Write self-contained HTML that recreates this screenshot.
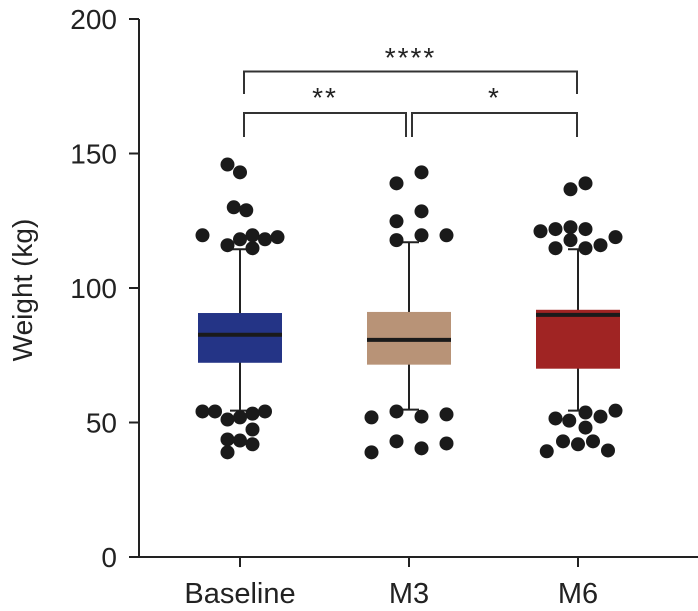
<!DOCTYPE html>
<html><head><meta charset="utf-8"><style>
body{margin:0;background:#fff;}
svg{display:block;font-family:"Liberation Sans",Arial,sans-serif;}
</style></head><body>
<svg id="chart" width="698" height="611" viewBox="0 0 698 611"></svg>
<script>
const categories=["Baseline","M3","M6"];
const boxColors=["#243486","#b89377","#a02423"];
const q1=[72.2,71.5,70];
const medians=[82.6,80.7,90];
const q3=[90.7,91.1,91.9];
const whiskerLow=[54.4,54.8,54.4];
const whiskerHigh=[114.4,117,114.4];
const outlierValues=[
 [145.9,143,130,128.9,119.6,115.9,118.1,119.6,118.1,118.9,114.8,54.1,54.1,51.1,51.9,53.3,54.1,47.4,43.7,43.3,41.9,38.9],
 [138.9,143,128.5,124.8,117.8,119.6,119.6,51.9,54.1,52.2,53,38.9,43,40.4,42.2],
 [136.7,138.9,121.1,121.9,122.6,121.9,117.8,114.8,114.8,115.9,118.9,51.5,50.7,53.7,52.2,54.4,48.1,39.3,43,41.9,43,39.6]
];
const outlierSlots=[
 [-1,0,-0.5,0.5,-3,-1,0,1,2,3,1,-3,-2,-1,0,1,2,1,-1,0,1,-1],
 [-1,1,1,-1,-1,1,3,-3,-1,1,3,-3,-1,1,3],
 [-0.6,0.6,-3,-1.8,-0.6,0.6,-0.6,-1.8,0.6,1.8,3,-1.8,-0.7,0.6,1.8,3,0.6,-2.5,-1.2,0,1.2,2.4]
];
const yTicks=[0,50,100,150,200];
const comparisons=[[0,2,"****"],[0,1,"**"],[1,2,"*"]];

const NS="http://www.w3.org/2000/svg";
const svg=document.getElementById("chart");
const Y0=557,Y1=19,X0=139,XEND=698;
function y(v){return Y0-(v/200)*(Y0-Y1);}
function x(i){return 240+i*169;}
function el(tag,attrs,parent){const e=document.createElementNS(NS,tag);for(const k in attrs)e.setAttribute(k,attrs[k]);(parent||svg).appendChild(e);return e;}

const ya=el("line",{x1:X0,y1:Y1,x2:X0,y2:Y0,stroke:"#222","stroke-width":2});


const xa=el("line",{x1:X0-1,y1:Y0,x2:XEND,y2:Y0,stroke:"#222","stroke-width":2});


yTicks.forEach(t=>{
 const tk=el("line",{x1:X0-10,y1:y(t),x2:X0,y2:y(t),stroke:"#222","stroke-width":2});
 
 
 const tl=el("text",{x:X0-22,y:y(t)+10,"text-anchor":"end","font-size":28,fill:"#222"});
 tl.textContent=t;
 
 
});
const yt=el("text",{x:0,y:0,transform:"translate(32,290) rotate(-90)","text-anchor":"middle","font-size":28,fill:"#222"});
yt.textContent="Weight (kg)";



categories.forEach((c,i)=>{
 const cx=x(i);
 const tk=el("line",{x1:cx,y1:Y0,x2:cx,y2:Y0+10,stroke:"#222","stroke-width":2});
 
 
 const tl=el("text",{x:cx,y:Y0+46,"text-anchor":"middle","font-size":29,fill:"#222"});
 tl.textContent=c;
 
 
 const w=el("line",{x1:cx,y1:y(whiskerHigh[i]),x2:cx,y2:y(whiskerLow[i]),stroke:"#222","stroke-width":2});
 
 
 [whiskerHigh[i],whiskerLow[i]].forEach(v=>{
  const cap=el("line",{x1:cx-10,y1:y(v),x2:cx+10,y2:y(v),stroke:"#222","stroke-width":2});
  
  
 });
 const b=el("rect",{x:cx-42,y:y(q3[i]),width:84,height:y(q1[i])-y(q3[i]),fill:boxColors[i]});
 
 
 const m=el("line",{x1:cx-42,y1:y(medians[i]),x2:cx+42,y2:y(medians[i]),stroke:"#1a1a1a","stroke-width":4});
 
 
 outlierValues[i].forEach((v,j)=>{
  const d=el("circle",{cx:cx+outlierSlots[i][j]*12.5,cy:y(v),r:7,fill:"#1a1a1a"});
  
  
 });
});

const brY=[71.5,113,113], legY=[94,137,137], txtY=[57,97,97];
comparisons.forEach((cmp,k)=>{
 let a=x(cmp[0])+4, bx=x(cmp[1])-1;
 if(k===1) bx=x(1)-3;
 if(k===2) a=x(1)+3;
 const p=el("path",{d:`M${a},${legY[k]}V${brY[k]}H${bx}V${legY[k]}`,fill:"none",stroke:"#333","stroke-width":2});
 
 
 const t=el("text",{x:(a+bx)/2,y:txtY[k]+10,"text-anchor":"middle","font-size":28,fill:"#222","letter-spacing":"2"});
 t.textContent=cmp[2];
 
 
});
</script>
</body></html>
